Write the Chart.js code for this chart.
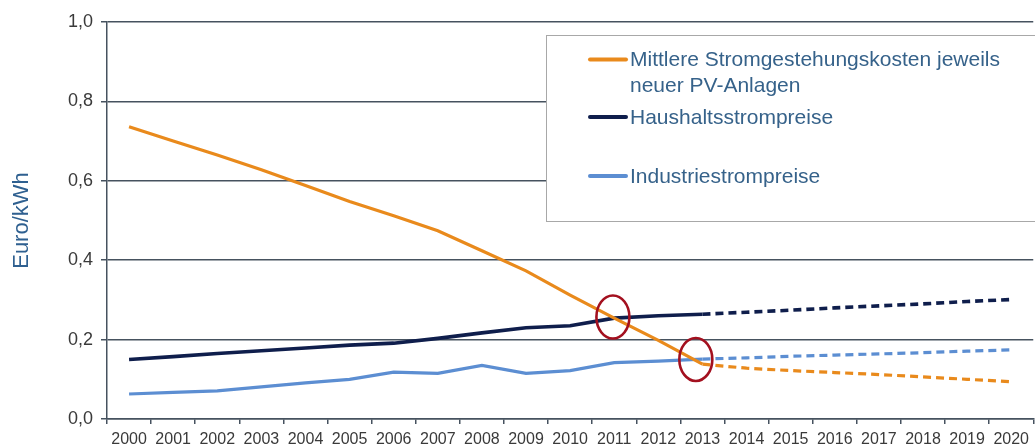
<!DOCTYPE html>
<html>
<head>
<meta charset="utf-8">
<script src="https://cdn.jsdelivr.net/npm/chart.js@4/dist/chart.umd.min.js"></script>
<style>
  html, body { margin: 0; padding: 0; background: #ffffff; }
  #wrap { width: 1035px; height: 446px; position: relative; }
</style>
</head>
<body>
<div id="wrap"><canvas id="c"></canvas></div>
<script>
const years = ['2000','2001','2002','2003','2004','2005','2006','2007','2008','2009','2010',
               '2011','2012','2013','2014','2015','2016','2017','2018','2019','2020'];
const pvCost = [0.736, 0.700, 0.665, 0.628, 0.588, 0.548, 0.512, 0.474, 0.424, 0.373, 0.312,
                0.254, 0.198, 0.138, 0.128, 0.122, 0.117, 0.112, 0.106, 0.100, 0.094];
const householdPrice = [0.150, 0.157, 0.165, 0.172, 0.179, 0.186, 0.191, 0.203, 0.217, 0.230, 0.235,
                        0.254, 0.260, 0.264, 0.269, 0.274, 0.280, 0.285, 0.290, 0.296, 0.301];
const industryPrice = [0.063, 0.067, 0.071, 0.081, 0.091, 0.100, 0.118, 0.115, 0.135, 0.115, 0.122,
                       0.142, 0.146, 0.151, 0.154, 0.158, 0.161, 0.164, 0.167, 0.171, 0.174];
const seriesLabels = [['Mittlere Stromgestehungskosten jeweils', 'neuer PV-Anlagen'],
                      ['Haushaltsstrompreise'],
                      ['Industriestrompreise']];
const yTicks = [0, 0.2, 0.4, 0.6, 0.8, 1.0];
const lastActualIndex = 13; // 2013: solid up to here, dashed forecast after
// highlighted crossing points (category index, value)
const highlights = [{x: 10.97, y: 0.257}, {x: 12.85, y: 0.150}];

const colors = ['#E98A1C', '#0F1E4C', '#5C8ED2'];
const gridColor = '#46525f';

const dashAfter = ctx => ctx.p0DataIndex >= lastActualIndex ? [8, 5] : undefined;

const customPlugin = {
  id: 'custom',
  afterDatasetsDraw(chart) {
    const ctx = chart.ctx;
    const xs = chart.scales.x, ys = chart.scales.y;
    // red ellipses
    ctx.save();
    ctx.strokeStyle = '#A3101F';
    ctx.lineWidth = 2.6;
    highlights.forEach(h => {
      const px = xs.getPixelForValue(h.x);
      const py = ys.getPixelForValue(h.y);
      ctx.beginPath();
      ctx.ellipse(px, py, 16.5, 21.5, 0, 0, Math.PI * 2);
      ctx.stroke();
    });
    ctx.restore();

    // legend box
    ctx.save();
    ctx.fillStyle = '#ffffff';
    ctx.fillRect(546, 35, 500, 186);
    ctx.strokeStyle = '#a8a8a8';
    ctx.lineWidth = 1;
    ctx.strokeRect(546.5, 35.5, 500, 186);
    const entryY = [59.5, 117, 176];
    ctx.lineCap = 'round';
    ctx.font = '21px "Liberation Sans", Arial, sans-serif';
    ctx.textBaseline = 'middle';
    ctx.textAlign = 'left';
    seriesLabels.forEach((lines, i) => {
      ctx.strokeStyle = colors[i];
      ctx.lineWidth = 4;
      ctx.beginPath();
      ctx.moveTo(590, entryY[i]);
      ctx.lineTo(626, entryY[i]);
      ctx.stroke();
      ctx.fillStyle = '#36628a';
      lines.forEach((t, k) => ctx.fillText(t, 630, entryY[i] + 1 + k * 26));
    });
    ctx.restore();
  }
};

new Chart(document.getElementById('c'), {
  type: 'line',
  data: {
    labels: years,
    datasets: [
      { label: seriesLabels[0].join(' '), data: pvCost, borderColor: colors[0], borderWidth: 3.2 },
      { label: seriesLabels[1][0], data: householdPrice, borderColor: colors[1], borderWidth: 3.6 },
      { label: seriesLabels[2][0], data: industryPrice, borderColor: colors[2], borderWidth: 3.2 }
    ].map(d => Object.assign(d, {
      pointRadius: 0, pointHoverRadius: 0, fill: false, tension: 0, borderDash: [],
      segment: { borderDash: dashAfter }
    }))
  },
  options: {
    responsive: true,
    maintainAspectRatio: false,
    animation: false,
    events: [],
    layout: { padding: { top: 22, right: 0, bottom: 0, left: 0 } },
    plugins: { legend: { display: false }, tooltip: { enabled: false } },
    scales: {
      x: {
        offset: true,
        afterFit: s => { s.height = 27; },
        grid: { drawOnChartArea: false, drawTicks: true, offset: true, tickLength: 5,
                color: gridColor, lineWidth: 1.5 },
        border: { display: true, color: gridColor, width: 1.5 },
        ticks: { color: '#3a3a3a', padding: 6, maxRotation: 0, autoSkip: false,
                 font: { size: 16, family: '"Liberation Sans", Arial, sans-serif' } }
      },
      y: {
        min: 0, max: 1.0,
        afterFit: s => { s.width = 107; },
        afterBuildTicks: s => { s.ticks = yTicks.map(v => ({ value: v })); },
        grid: { color: gridColor, lineWidth: 1.5, tickLength: 6, drawTicks: true },
        border: { display: true, color: gridColor, width: 1.5 },
        ticks: { color: '#3a3a3a', padding: 8,
                 font: { size: 18, family: '"Liberation Sans", Arial, sans-serif' },
                 callback: v => v.toFixed(1).replace('.', ',') },
        title: { display: true, text: 'Euro/kWh', color: '#2f6090',
                 padding: { top: 9, bottom: 0 },
                 font: { size: 22, family: '"Liberation Sans", Arial, sans-serif' } }
      }
    }
  },
  plugins: [customPlugin]
});
</script>
</body>
</html>
